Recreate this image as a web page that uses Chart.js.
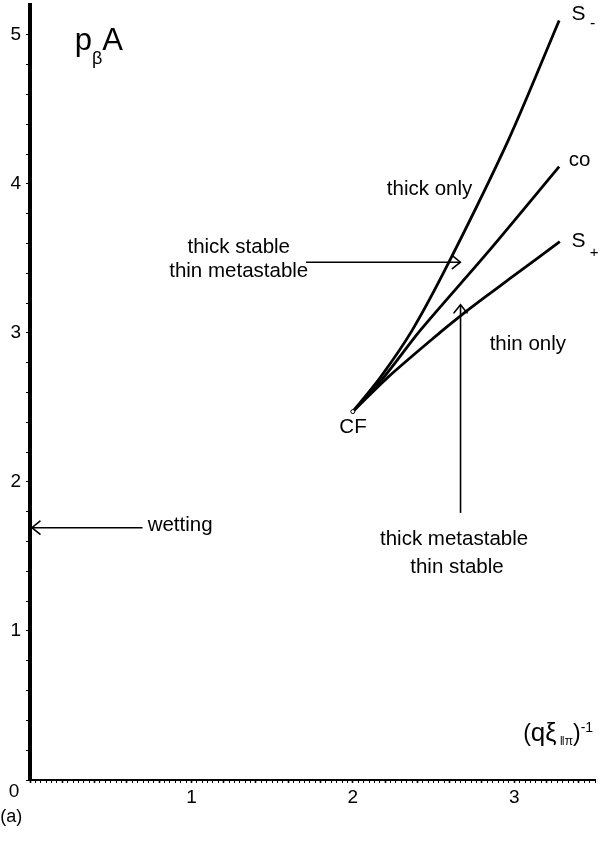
<!DOCTYPE html>
<html>
<head>
<meta charset="utf-8">
<script src="https://cdn.jsdelivr.net/npm/chart.js@4.4.1/dist/chart.umd.min.js"></script>
<style>
  html, body { margin: 0; padding: 0; background: #fff; }
</style>
</head>
<body>
<canvas id="phaseChart" width="600" height="842"></canvas>
<script>
// curves: x = (q xi)^-1, y = p_beta A
const sMinusX = [2.000, 2.174, 2.369, 2.595, 2.964, 3.278];
const sMinusY = [2.472, 2.707, 3.020, 3.474, 4.295, 5.096];
const coX = [2.000, 2.195, 2.420, 2.831, 3.278];
const coY = [2.472, 2.707, 3.020, 3.535, 4.116];
const sPlusX = [2.000, 2.215, 2.554, 2.671, 2.831, 2.974, 3.282];
const sPlusY = [2.472, 2.700, 3.015, 3.118, 3.250, 3.365, 3.613];
const cfPoint = [2.000, 2.472];

// tick labels
const xLabelValues = [1, 2, 3];
const yLabelValues = [1, 2, 3, 4, 5];
const xMinorStep = 1 / 30;
const yMinorStep = 0.2;

// arrows (data units)
const arrows = [
  { from: [1.71, 3.474], to: [2.666, 3.474] },
  { from: [2.667, 1.792], to: [2.667, 3.188] },
  { from: [0.697, 1.693], to: [0.012, 1.693] }
];

const FONT = "'Liberation Sans', Arial, Helvetica, sans-serif";

// text labels, anchored in data units
const notes = [
  { text: 'thick only', x: 2.475, y: 3.925, align: 'center' },
  { text: 'thick stable', x: 1.293, y: 3.539, align: 'center' },
  { text: 'thin metastable', x: 1.293, y: 3.372, align: 'center' },
  { text: 'thin only', x: 3.084, y: 2.885, align: 'center' },
  { text: 'CF', x: 2.001, y: 2.328, align: 'center' },
  { text: 'wetting', x: 0.930, y: 1.671, align: 'center' },
  { text: 'thick metastable', x: 2.627, y: 1.577, align: 'center' },
  { text: 'thin stable', x: 2.645, y: 1.387, align: 'center' },
  { text: 'co', x: 3.337, y: 4.120, align: 'left' },
  { text: '0', x: -0.0985, y: -0.114, align: 'center', size: 19 },
  { text: '(a)', x: -0.185, y: -0.282, align: 'left', size: 18 }
];

// labels with sub/superscripts: runs drawn one after another
const richNotes = [
  { x: 3.355, y: 5.099, runs: [{ t: 'S', size: 21 }, { t: ' -', size: 16, dy: 8 }] },
  { x: 3.355, y: 3.576, runs: [{ t: 'S', size: 21 }, { t: ' +', size: 15, dy: 10 }] },
  { x: 0.277, y: 4.898, runs: [{ t: 'p', size: 31 }, { t: 'β', size: 18, dy: 14 }, { t: 'A', size: 31 }] },
  { x: 3.055, y: 0.262, runs: [
    { t: '(', size: 23 }, { t: 'q', size: 26 }, { t: 'ξ', size: 25 },
    { t: ' ‖π', size: 12, dy: 4 }, { t: ')', size: 23 }, { t: '-1', size: 14, dy: -9 }
  ] }
];

const toPoints = (xs, ys) => xs.map((v, i) => ({ x: v, y: ys[i] }));

function minorTicks(step, max) {
  return function (scale) {
    const t = [];
    for (let k = 0; k * step <= max + 1e-9; k++) t.push({ value: +(k * step).toFixed(6) });
    scale.ticks = t;
  };
}

function labelOnly(values) {
  return function (v) {
    const r = Math.round(v);
    return (Math.abs(v - r) < 1e-6 && values.includes(r)) ? String(r) : '';
  };
}

const overlay = {
  id: 'overlay',
  afterDatasetsDraw(chart) {
    const { ctx, scales: { x, y } } = chart;
    ctx.save();
    ctx.strokeStyle = '#000';
    ctx.lineWidth = 1.6;
    ctx.lineCap = 'round';
    arrows.forEach(a => {
      const x0 = x.getPixelForValue(a.from[0]), y0 = y.getPixelForValue(a.from[1]);
      const x1 = x.getPixelForValue(a.to[0]), y1 = y.getPixelForValue(a.to[1]);
      const ang = Math.atan2(y1 - y0, x1 - x0);
      const L = 8, W = 6.5;
      const bx = x1 - L * Math.cos(ang), by = y1 - L * Math.sin(ang);
      const px = -Math.sin(ang) * W, py = Math.cos(ang) * W;
      ctx.beginPath();
      ctx.moveTo(bx + px, by + py);
      ctx.lineTo(x1, y1);
      ctx.lineTo(bx - px, by - py);
      ctx.stroke();
    });
    ctx.restore();
  },
  afterDraw(chart) {
    const { ctx, scales: { x, y } } = chart;
    ctx.save();
    ctx.fillStyle = '#000';
    ctx.textBaseline = 'alphabetic';
    notes.forEach(n => {
      ctx.font = (n.size || 20.5) + 'px ' + FONT;
      ctx.textAlign = n.align;
      ctx.fillText(n.text, x.getPixelForValue(n.x), y.getPixelForValue(n.y));
    });
    ctx.textAlign = 'left';
    richNotes.forEach(n => {
      let px = x.getPixelForValue(n.x);
      const py = y.getPixelForValue(n.y);
      n.runs.forEach(r => {
        ctx.font = r.size + 'px ' + FONT;
        ctx.fillText(r.t, px, py + (r.dy || 0));
        px += ctx.measureText(r.t).width;
      });
    });
    ctx.restore();
  }
};

const curveStyle = {
  showLine: true,
  borderColor: '#000',
  borderWidth: 2.8,
  pointRadius: 0,
  tension: 0.3,
  fill: false
};
const arrowStyle = {
  showLine: true,
  borderColor: '#000',
  borderWidth: 1.6,
  pointRadius: 0,
  fill: false
};

const ctx = document.getElementById('phaseChart').getContext('2d');
new Chart(ctx, {
  type: 'scatter',
  data: {
    datasets: [
      {
        label: 'CF',
        data: [{ x: cfPoint[0], y: cfPoint[1] }],
        pointRadius: 2,
        pointBackgroundColor: '#fff',
        pointBorderColor: '#000',
        pointBorderWidth: 1
      },
      Object.assign({ label: 'S-', data: toPoints(sMinusX, sMinusY) }, curveStyle),
      Object.assign({ label: 'co', data: toPoints(coX, coY) }, curveStyle),
      Object.assign({ label: 'S+', data: toPoints(sPlusX, sPlusY) }, curveStyle),
      ...arrows.map((a, i) => Object.assign({
        label: 'arrow' + i,
        data: [{ x: a.from[0], y: a.from[1] }, { x: a.to[0], y: a.to[1] }]
      }, arrowStyle))
    ]
  },
  options: {
    responsive: false,
    animation: false,
    devicePixelRatio: 1,
    events: [],
    layout: { padding: { top: 5, right: 1.5, left: 0, bottom: 0 } },
    plugins: {
      legend: { display: false },
      tooltip: { enabled: false }
    },
    scales: {
      x: {
        type: 'linear',
        min: 0,
        max: 3.5,
        border: { display: true, color: '#000', width: 2 },
        grid: {
          drawOnChartArea: false, drawTicks: true, tickLength: 3, tickColor: '#000',
          tickWidth: c => (c.tick && Math.abs(c.tick.value * 5 - Math.round(c.tick.value * 5)) < 1e-6) ? 1.6 : 1
        },
        ticks: {
          color: '#000',
          font: { family: FONT, size: 19 },
          padding: 3,
          autoSkip: false,
          maxRotation: 0,
          minRotation: 0,
          callback: labelOnly(xLabelValues)
        },
        afterBuildTicks: minorTicks(xMinorStep, 3.5),
        afterFit(s) { s.height = 62; s.paddingLeft = 0; s.paddingRight = 0; }
      },
      y: {
        type: 'linear',
        min: 0,
        max: 5.2,
        border: { display: true, color: '#000', width: 4 },
        grid: { drawOnChartArea: false, drawTicks: true, tickLength: 4, tickColor: '#000', tickWidth: 1 },
        ticks: {
          color: '#000',
          font: { family: FONT, size: 19 },
          padding: 5,
          autoSkip: false,
          callback: labelOnly(yLabelValues)
        },
        afterBuildTicks: minorTicks(yMinorStep, 5.0),
        afterFit(s) { s.width = 30; s.paddingTop = 0; s.paddingBottom = 0; }
      }
    }
  },
  plugins: [overlay]
});
</script>
</body>
</html>
